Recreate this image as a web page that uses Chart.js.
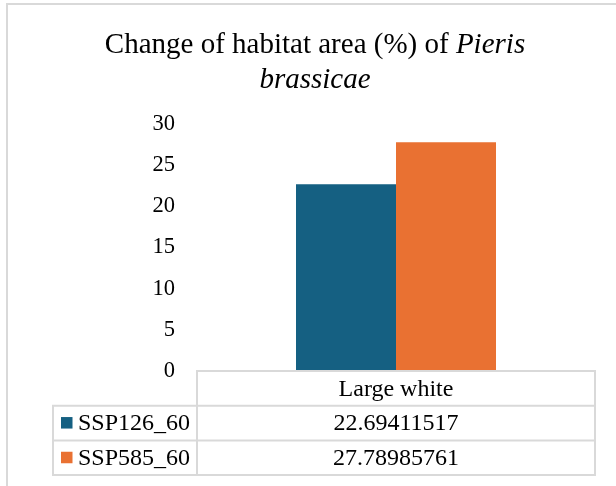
<!DOCTYPE html>
<html>
<head>
<meta charset="utf-8">
<title>Change of habitat area (%) of Pieris brassicae</title>
<script src="https://cdn.jsdelivr.net/npm/chart.js@4.4.0/dist/chart.umd.min.js"></script>
<style>
  html, body { margin: 0; padding: 0; background: #fff; }
  canvas { display: block; }
</style>
</head>
<body>
<canvas id="chart" width="616" height="486"></canvas>
<script>
'use strict'
const ctx = document.getElementById('chart').getContext('2d')

const categories = ['Large white']
const seriesNames = ['SSP126_60', 'SSP585_60']
const ssp126 = [22.69411517]
const ssp585 = [27.78985761]
const yTicks = [0, 5, 10, 15, 20, 25, 30]

const serif = "'Liberation Serif', 'Times New Roman', serif"
const gridGrey = '#d9d9d9'

// outer frame of the chart box
const frame = {
  id: 'frame',
  beforeDraw(chart) {
    const c = chart.ctx
    c.save()
    c.strokeStyle = gridGrey
    c.lineWidth = 2
    c.beginPath()
    c.moveTo(7, chart.height)
    c.lineTo(7, 4)
    c.lineTo(chart.width, 4)
    c.stroke()
    c.restore()
  },
}

// title with the species name in italics
const mixedTitle = {
  id: 'mixedTitle',
  afterDraw(chart) {
    const c = chart.ctx
    const cx = 315
    const plain = 'Change of habitat area (%) of '
    const ital = 'Pieris'
    c.save()
    c.fillStyle = '#000'
    c.textBaseline = 'alphabetic'
    c.textAlign = 'left'
    c.font = '29px ' + serif
    const w1 = c.measureText(plain).width
    c.font = 'italic 29px ' + serif
    const w2 = c.measureText(ital).width
    const x = cx - (w1 + w2) / 2
    c.font = '29px ' + serif
    c.fillText(plain, x, 53)
    c.font = 'italic 29px ' + serif
    c.fillText(ital, x + w1, 53)
    c.textAlign = 'center'
    c.fillText('brassicae', cx, 88)
    c.restore()
  },
}

// data table under the plot, with legend keys in the first column
const dataTable = {
  id: 'dataTable',
  afterDraw(chart) {
    const c = chart.ctx
    const x = chart.scales.x
    const top = chart.chartArea.bottom
    const rowH = 34.7
    const keyLeft = 53
    const left = x.left
    const right = x.right
    const rows = chart.data.datasets.length
    c.save()
    c.strokeStyle = gridGrey
    c.lineWidth = 2
    c.beginPath()
    // header row
    c.rect(left, top, right - left, rowH)
    // series rows
    for (let i = 0; i < rows; i++) {
      const y = top + rowH * (i + 1)
      c.rect(keyLeft, y, left - keyLeft, rowH)
      c.rect(left, y, right - left, rowH)
    }
    c.stroke()

    c.fillStyle = '#000'
    c.font = '24px ' + serif
    c.textBaseline = 'middle'
    c.textAlign = 'center'
    chart.data.labels.forEach((lab, j) => {
      c.fillText(lab, x.getPixelForValue(j), top + rowH / 2 + 1)
    })
    chart.data.datasets.forEach((ds, i) => {
      const yMid = top + rowH * (i + 1.5)
      c.fillStyle = ds.backgroundColor
      c.fillRect(61, yMid - 6, 11.5, 11.5)
      c.fillStyle = '#000'
      c.textAlign = 'left'
      c.fillText(ds.label, 78, yMid + 1)
      c.textAlign = 'center'
      ds.data.forEach((v, j) => {
        c.fillText(String(v), x.getPixelForValue(j), yMid + 1)
      })
    })
    c.restore()
  },
}

const data = {
  labels: categories,
  datasets: [
    {
      label: seriesNames[0],
      backgroundColor: '#156082',
      data: ssp126,
    },
    {
      label: seriesNames[1],
      backgroundColor: '#E97132',
      data: ssp585,
    },
  ],
}

const config = {
  type: 'bar',
  data: data,
  options: {
    responsive: false,
    animation: false,
    layout: {
      padding: { left: 0, right: 21, top: 124, bottom: 115 },
    },
    datasets: {
      bar: {
        barPercentage: 1,
        categoryPercentage: 0.5025,
      },
    },
    scales: {
      x: {
        display: false,
      },
      y: {
        min: 0,
        max: 30,
        afterFit(scale) {
          scale.width = 197
        },
        afterBuildTicks(scale) {
          scale.ticks = yTicks.map((v) => ({ value: v }))
        },
        grid: { display: false, drawTicks: false },
        border: { display: false },
        ticks: {
          padding: 22,
          color: '#000',
          font: { family: serif, size: 22.5 },
        },
      },
    },
    plugins: {
      legend: { display: false },
      title: { display: false },
      tooltip: { enabled: false },
    },
  },
  plugins: [frame, mixedTitle, dataTable],
}

const chart = new Chart(ctx, config)
</script>
</body>
</html>
